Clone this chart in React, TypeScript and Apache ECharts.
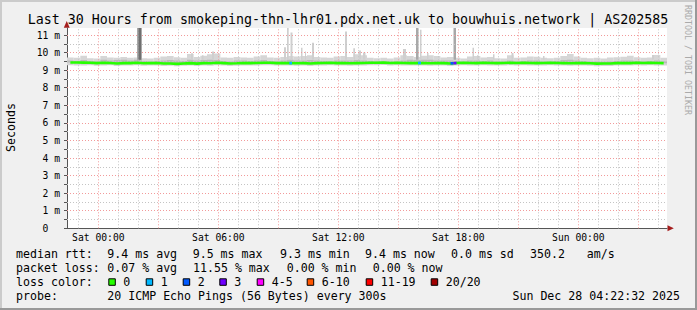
import React, { useEffect, useRef } from 'react';
import * as echarts from 'echarts';

// time axis in hours relative to Sat 00:00
const T_START = -1.565;
const T_END = 28.435;
const BIN_H = 1 / 3; // 20-minute smoke bins

const xTickValues = [0, 6, 12, 18, 24];
const xTickLabels = ['Sat 00:00', 'Sat 06:00', 'Sat 12:00', 'Sat 18:00', 'Sun 00:00'];
const majorHourLines = [0, 3, 6, 9, 12, 15, 18, 21, 24, 27];
const minorHourLines = [-1, 1, 2, 4, 5, 7, 8, 10, 11, 13, 14, 16, 17, 19, 20, 22, 23, 25, 26, 28];
const yLabelValues = [0, 1, 2, 3, 4, 5, 6, 7, 8, 9, 10, 11];
const yTickValues = [0, 0.5, 1, 1.5, 2, 2.5, 3, 3.5, 4, 4.5, 5, 5.5, 6, 6.5, 7, 7.5, 8, 8.5, 9, 9.5, 10, 10.5, 11];
const majorYLines = [1, 2, 3, 4, 5, 6, 7, 8, 9, 10, 11];
const minorYLines = [0.5, 1.5, 2.5, 3.5, 4.5, 5.5, 6.5, 7.5, 8.5, 9.5, 10.5];

// median RTT in ms (20-minute bins)
const medianRtt = [
  9.44, 9.44, 9.43, 9.42, 9.40, 9.42, 9.41, 9.38, 9.40, 9.40,
  9.42, 9.39, 9.40, 9.41, 9.38, 9.38, 9.36, 9.38, 9.40, 9.37,
  9.40, 9.39, 9.42, 9.40, 9.38, 9.39, 9.41, 9.40, 9.41, 9.42,
  9.42, 9.40, 9.41, 9.40, 9.39, 9.40, 9.38, 9.40, 9.41, 9.42,
  9.40, 9.41, 9.39, 9.40, 9.41, 9.42, 9.42, 9.43, 9.41, 9.42,
  9.41, 9.40, 9.41, 9.40, 9.39, 9.41, 9.40, 9.38, 9.41, 9.42,
  9.41, 9.40, 9.42, 9.41, 9.40, 9.41, 9.42, 9.41, 9.42, 9.41,
  9.40, 9.41, 9.42, 9.41, 9.40, 9.39, 9.40, 9.41, 9.39, 9.37,
  9.38, 9.38, 9.40, 9.41, 9.40, 9.42, 9.41, 9.42, 9.41, 9.40,
];
// outer smoke (lowest / highest ping)
const smokeLo = [
  9.28, 9.27, 9.26, 9.28, 9.25, 9.27, 9.28, 9.24, 9.26, 9.27,
  9.28, 9.25, 9.26, 9.27, 9.24, 9.25, 9.22, 9.25, 9.27, 9.24,
  9.26, 9.25, 9.28, 9.26, 9.24, 9.25, 9.27, 9.26, 9.27, 9.28,
  9.28, 9.26, 9.27, 9.26, 9.25, 9.26, 9.24, 9.26, 9.27, 9.28,
  9.26, 9.27, 9.25, 9.26, 9.27, 9.28, 9.28, 9.29, 9.27, 9.28,
  9.27, 9.26, 9.27, 9.26, 9.25, 9.27, 9.26, 9.24, 9.27, 9.28,
  9.27, 9.26, 9.28, 9.27, 9.26, 9.27, 9.28, 9.27, 9.28, 9.27,
  9.26, 9.27, 9.28, 9.27, 9.26, 9.25, 9.26, 9.27, 9.25, 9.23,
  9.24, 9.24, 9.26, 9.27, 9.26, 9.28, 9.27, 9.28, 9.27, 9.26,
];
const smokeHi = [
  9.72, 9.70, 9.82, 9.68, 9.66, 9.80, 9.72, 9.70, 9.75, 9.70,
  9.72, 9.68, 9.66, 9.70, 9.78, 9.80, 9.74, 9.70, 9.92, 9.75,
  9.82, 9.90, 9.95, 9.72, 9.70, 9.75, 9.72, 9.70, 9.78, 9.85,
  9.72, 9.70, 9.75, 9.80, 9.78, 9.80, 9.85, 9.75, 9.72, 9.70,
  9.78, 9.80, 9.75, 9.90, 9.85, 9.70, 9.68, 9.70, 9.66, 9.72,
  9.85, 9.80, 9.75, 9.82, 9.85, 9.80, 9.72, 9.75, 9.70, 9.66,
  9.78, 9.80, 9.72, 9.75, 9.68, 9.66, 9.85, 9.70, 9.72, 9.78,
  9.76, 9.70, 9.68, 9.70, 9.80, 9.92, 9.78, 9.70, 9.68, 9.70,
  9.66, 9.72, 9.74, 9.76, 9.82, 9.74, 9.70, 9.72, 9.86, 9.70,
];
// inner (denser) smoke above the median
const smokeMid = [
  9.55, 9.52, 9.58, 9.52, 9.50, 9.60, 9.55, 9.58, 9.60, 9.55,
  9.60, 9.52, 9.50, 9.52, 9.55, 9.58, 9.55, 9.52, 9.60, 9.55,
  9.58, 9.60, 9.58, 9.52, 9.50, 9.55, 9.55, 9.52, 9.55, 9.58,
  9.52, 9.50, 9.55, 9.60, 9.55, 9.55, 9.58, 9.55, 9.52, 9.50,
  9.55, 9.55, 9.55, 9.58, 9.55, 9.52, 9.50, 9.50, 9.48, 9.50,
  9.55, 9.60, 9.58, 9.60, 9.60, 9.55, 9.55, 9.55, 9.52, 9.50,
  9.55, 9.55, 9.52, 9.55, 9.50, 9.50, 9.55, 9.50, 9.52, 9.55,
  9.55, 9.50, 9.50, 9.52, 9.58, 9.60, 9.55, 9.52, 9.50, 9.50,
  9.48, 9.50, 9.52, 9.55, 9.55, 9.52, 9.50, 9.52, 9.55, 9.50,
];
// single-sample smoke spikes: [tStart, tEnd, low, high]
const spikesLight = [
  [4.635, 4.735, 9.6, 9.97],
  [5.185, 5.26, 9.6, 9.85],
  [5.685, 5.785, 9.6, 10.06],
  [9.285, 9.385, 9.6, 10.31],
  [9.435, 9.52, 9.6, 11.4],
  [9.61, 9.71, 9.6, 11.15],
  [10.135, 10.21, 9.6, 10.28],
  [10.335, 10.385, 9.6, 10.06],
  [10.685, 10.785, 9.6, 10.56],
  [12.335, 12.435, 9.6, 11.2],
  [12.75, 12.835, 9.6, 10.25],
  [13.035, 13.135, 9.6, 10.12],
  [13.235, 13.36, 9.6, 10.0],
  [15.235, 15.385, 9.6, 10.2],
  [16.085, 16.16, 9.6, 11.3],
  [16.435, 16.51, 9.6, 9.98],
  [18.71, 18.785, 9.6, 10.27],
  [18.935, 19.01, 9.6, 9.85],
  [19.735, 19.81, 9.6, 9.9],
  [20.66, 20.76, 9.6, 9.98],
  [22.235, 22.31, 9.6, 9.8],
  [27.685, 27.785, 9.6, 9.87],
];
const spikesMedium = [
  [1.935, 2.185, 9.55, 11.4],
  [15.885, 16.01, 9.6, 11.4],
  [17.76, 17.885, 9.6, 11.4],
];
const spikesDark = [
  [2.01, 2.135, 9.6, 11.4],
];
// median samples with packet loss: [tStart, tEnd, rtt, lostPings]
const lossSegments = [
  [9.55, 9.685, 9.40, 1],
  [15.985, 16.135, 9.41, 1],
  [17.61, 17.76, 9.39, 2],
  [17.76, 17.91, 9.40, 3],
];

const lossLabels = ['0', '1', '2', '3', '4-5', '6-10', '11-19', '20/20'];
const lossColors = ['#26ff00', '#00b8ff', '#0059ff', '#7000ff', '#ff00ff', '#ff5500', '#ff0000', '#a00000'];
const lossBucket = (n: number) => (n <= 3 ? n : n <= 5 ? 4 : n <= 10 ? 5 : n <= 19 ? 6 : 7);

const titleText = 'Last 30 Hours from smokeping-thn-lhr01.pdx.net.uk to bouwhuis.network | AS202585';
const rttStats = ['9.4 ms avg', '9.5 ms max', '9.3 ms min', '9.4 ms now', '0.0 ms sd', '350.2', 'am/s'];
const lossStats = ['0.07 % avg', '11.55 % max', '0.00 % min', '0.00 % now'];
const probeText = '20 ICMP Echo Pings (56 Bytes) every 300s';
const stampText = 'Sun Dec 28 04:22:32 2025';

const MONO = '"DejaVu Sans Mono", monospace';

function rectSeries(name: string, data: number[][], color: string, z: number) {
  return {
    name,
    type: 'custom',
    z,
    clip: true,
    silent: true,
    encode: { x: [0, 1], y: [2, 3] },
    data,
    renderItem: (_p: any, api: any) => {
      const a = api.coord([api.value(0), api.value(3)]);
      const b = api.coord([api.value(1), api.value(2)]);
      return {
        type: 'rect',
        shape: { x: a[0], y: a[1], width: b[0] - a[0], height: b[1] - a[1] },
        style: { fill: color },
      };
    },
  };
}

function txt(text: string, x: number, y: number, opts: any = {}) {
  return {
    type: 'text',
    x,
    y,
    rotation: opts.rotation || 0,
    silent: true,
    style: {
      text,
      x: 0,
      y: 0,
      font: `${opts.size || 11.6}px ${MONO}`,
      fill: opts.fill || '#000',
      textAlign: opts.align || 'left',
      align: opts.align || 'left',
      textVerticalAlign: 'middle',
      verticalAlign: 'middle',
    },
  };
}

export default function App() {
  const ref = useRef<HTMLDivElement>(null);
  useEffect(() => {
    document.body.style.margin = '0';
    const chart = echarts.init(ref.current!, null, { renderer: 'svg' });

    const binStart = (i: number) => T_START + i * BIN_H;
    const lightBins = smokeHi.map((h, i) => [binStart(i), binStart(i + 1), smokeLo[i], h]);
    const midBins = smokeMid.map((h, i) => [binStart(i), binStart(i + 1), medianRtt[i], h]);
    const medianData = medianRtt.map((v, i) => [binStart(i) + BIN_H / 2, v]);

    const graphics: any[] = [];
    graphics.push({ type: 'rect', shape: { x: 0, y: 0, width: 697, height: 2 }, style: { fill: '#cbcbcb' }, silent: true });
    graphics.push({ type: 'rect', shape: { x: 0, y: 0, width: 2, height: 310 }, style: { fill: '#cbcbcb' }, silent: true });
    graphics.push({ type: 'rect', shape: { x: 0, y: 308, width: 697, height: 2 }, style: { fill: '#999999' }, silent: true });
    graphics.push({ type: 'rect', shape: { x: 695, y: 0, width: 2, height: 310 }, style: { fill: '#999999' }, silent: true });
    graphics.push(txt(titleText, 348, 19, { size: 13.3, align: 'center' }));
    graphics.push(txt('Seconds', 10.5, 127.5, { rotation: Math.PI / 2, align: 'center' }));
    graphics.push(txt('RRDTOOL / TOBI OETIKER', 687.5, 60, { rotation: -Math.PI / 2, align: 'center', size: 8.3, fill: '#aaaaaa' }));
    // arrows
    graphics.push({ type: 'polygon', shape: { points: [[63.8, 27.8], [69.7, 27.8], [66.75, 21]] }, style: { fill: '#a51d1d' }, silent: true });
    graphics.push({ type: 'polygon', shape: { points: [[667.5, 225.3], [667.5, 231.3], [673.8, 228.3]] }, style: { fill: '#a51d1d' }, silent: true });
    // legend lines
    graphics.push(txt('median rtt:', 16, 254.3));
    const rttX = [107.3, 192.7, 280, 365, 451, 530, 586.7];
    rttStats.forEach((s, i) => graphics.push(txt(s, rttX[i], 254.3)));
    graphics.push(txt('packet loss:', 16, 268.3));
    const lossX = [107.3, 193, 286.7, 372.7];
    lossStats.forEach((s, i) => graphics.push(txt(s, lossX[i], 268.3)));
    graphics.push(txt('loss color:', 16, 282.3));
    const boxX = [108.3, 145.7, 182.7, 219.3, 256.7, 306.7, 365.7, 430.7];
    lossLabels.forEach((l, i) => {
      graphics.push({
        type: 'rect',
        shape: { x: boxX[i] + 0.5, y: 278.8, width: 6.5, height: 6.5 },
        style: { fill: lossColors[i], stroke: '#000', lineWidth: 1 },
        silent: true,
      });
      graphics.push(txt(l, boxX[i] + 15, 282.3));
    });
    graphics.push(txt('probe:', 16, 296.3));
    graphics.push(txt(probeText, 107.3, 296.3));
    graphics.push(txt(stampText, 680, 296.3, { align: 'right' }));

    const option: any = {
      animation: false,
      backgroundColor: '#f0f0f0',
      grid: { left: 67, right: 30, top: 28, bottom: 81.7, show: true, backgroundColor: '#ffffff', borderWidth: 0 },
      xAxis: {
        type: 'value',
        min: T_START,
        max: T_END,
        axisLine: { show: true, onZero: false, lineStyle: { color: '#555', width: 1 } },
        axisTick: { show: false },
        splitLine: { show: false },
        axisLabel: {
          customValues: xTickValues,
          formatter: (v: number) => xTickLabels[xTickValues.indexOf(Math.round(v))] || '',
          color: '#000',
          fontFamily: MONO,
          fontSize: 9.7,
          margin: 4,
        },
      },
      yAxis: {
        type: 'value',
        min: 0,
        max: 11.4,
        axisLine: { show: true, onZero: false, lineStyle: { color: '#555', width: 1 } },
        axisTick: { show: true, customValues: yTickValues, length: 3, lineStyle: { color: '#555' } },
        splitLine: { show: false },
        axisLabel: {
          customValues: yLabelValues,
          formatter: (v: number) => (v === 0 ? '{z|0}' : `${v} m`),
          color: '#000',
          fontFamily: MONO,
          fontSize: 9.7,
          margin: 7,
          rich: { z: { fontFamily: MONO, fontSize: 9.7, color: '#000', padding: [0, 11.7, 0, 0] } },
        },
      },
      series: [
        {
          type: 'line',
          data: [],
          z: 1,
          silent: true,
          markLine: {
            silent: true,
            symbol: ['none', 'none'],
            label: { show: false },
            lineStyle: { color: '#c4c4c4', type: [1, 2], width: 1 },
            data: [...minorHourLines.map((x) => ({ xAxis: x })), ...minorYLines.map((y) => ({ yAxis: y }))],
          },
        },
        {
          type: 'line',
          data: [],
          z: 1,
          silent: true,
          markLine: {
            silent: true,
            symbol: ['none', 'none'],
            label: { show: false },
            lineStyle: { color: '#f29a9a', type: [1, 2], width: 1 },
            data: [...majorHourLines.map((x) => ({ xAxis: x })), ...majorYLines.map((y) => ({ yAxis: y }))],
          },
        },
        rectSeries('smokeLight', lightBins, '#d6d6d6', 2),
        rectSeries('smokeMid', midBins, '#b9b9b9', 3),
        rectSeries('spikesLight', spikesLight, '#cfcfcf', 4),
        rectSeries('spikesMedium', spikesMedium, '#a9a9a9', 4),
        rectSeries('spikesDark', spikesDark, '#6f6f6f', 5),
        {
          name: 'median',
          type: 'line',
          z: 6,
          data: medianData,
          symbol: 'none',
          silent: true,
          lineStyle: { color: lossColors[0], width: 2.6 },
        },
        {
          name: 'loss',
          type: 'custom',
          z: 7,
          silent: true,
          encode: { x: [0, 1], y: 2 },
          data: lossSegments,
          renderItem: (_p: any, api: any) => {
            const a = api.coord([api.value(0), api.value(2)]);
            const b = api.coord([api.value(1), api.value(2)]);
            return {
              type: 'line',
              shape: { x1: a[0], y1: a[1], x2: b[0], y2: b[1] },
              style: { stroke: lossColors[lossBucket(api.value(3))], lineWidth: 2.6 },
            };
          },
        },
      ],
      graphic: graphics,
    };
    chart.setOption(option);
    return () => chart.dispose();
  }, []);
  return <div ref={ref} style={{ width: 697, height: 310 }} />;
}
